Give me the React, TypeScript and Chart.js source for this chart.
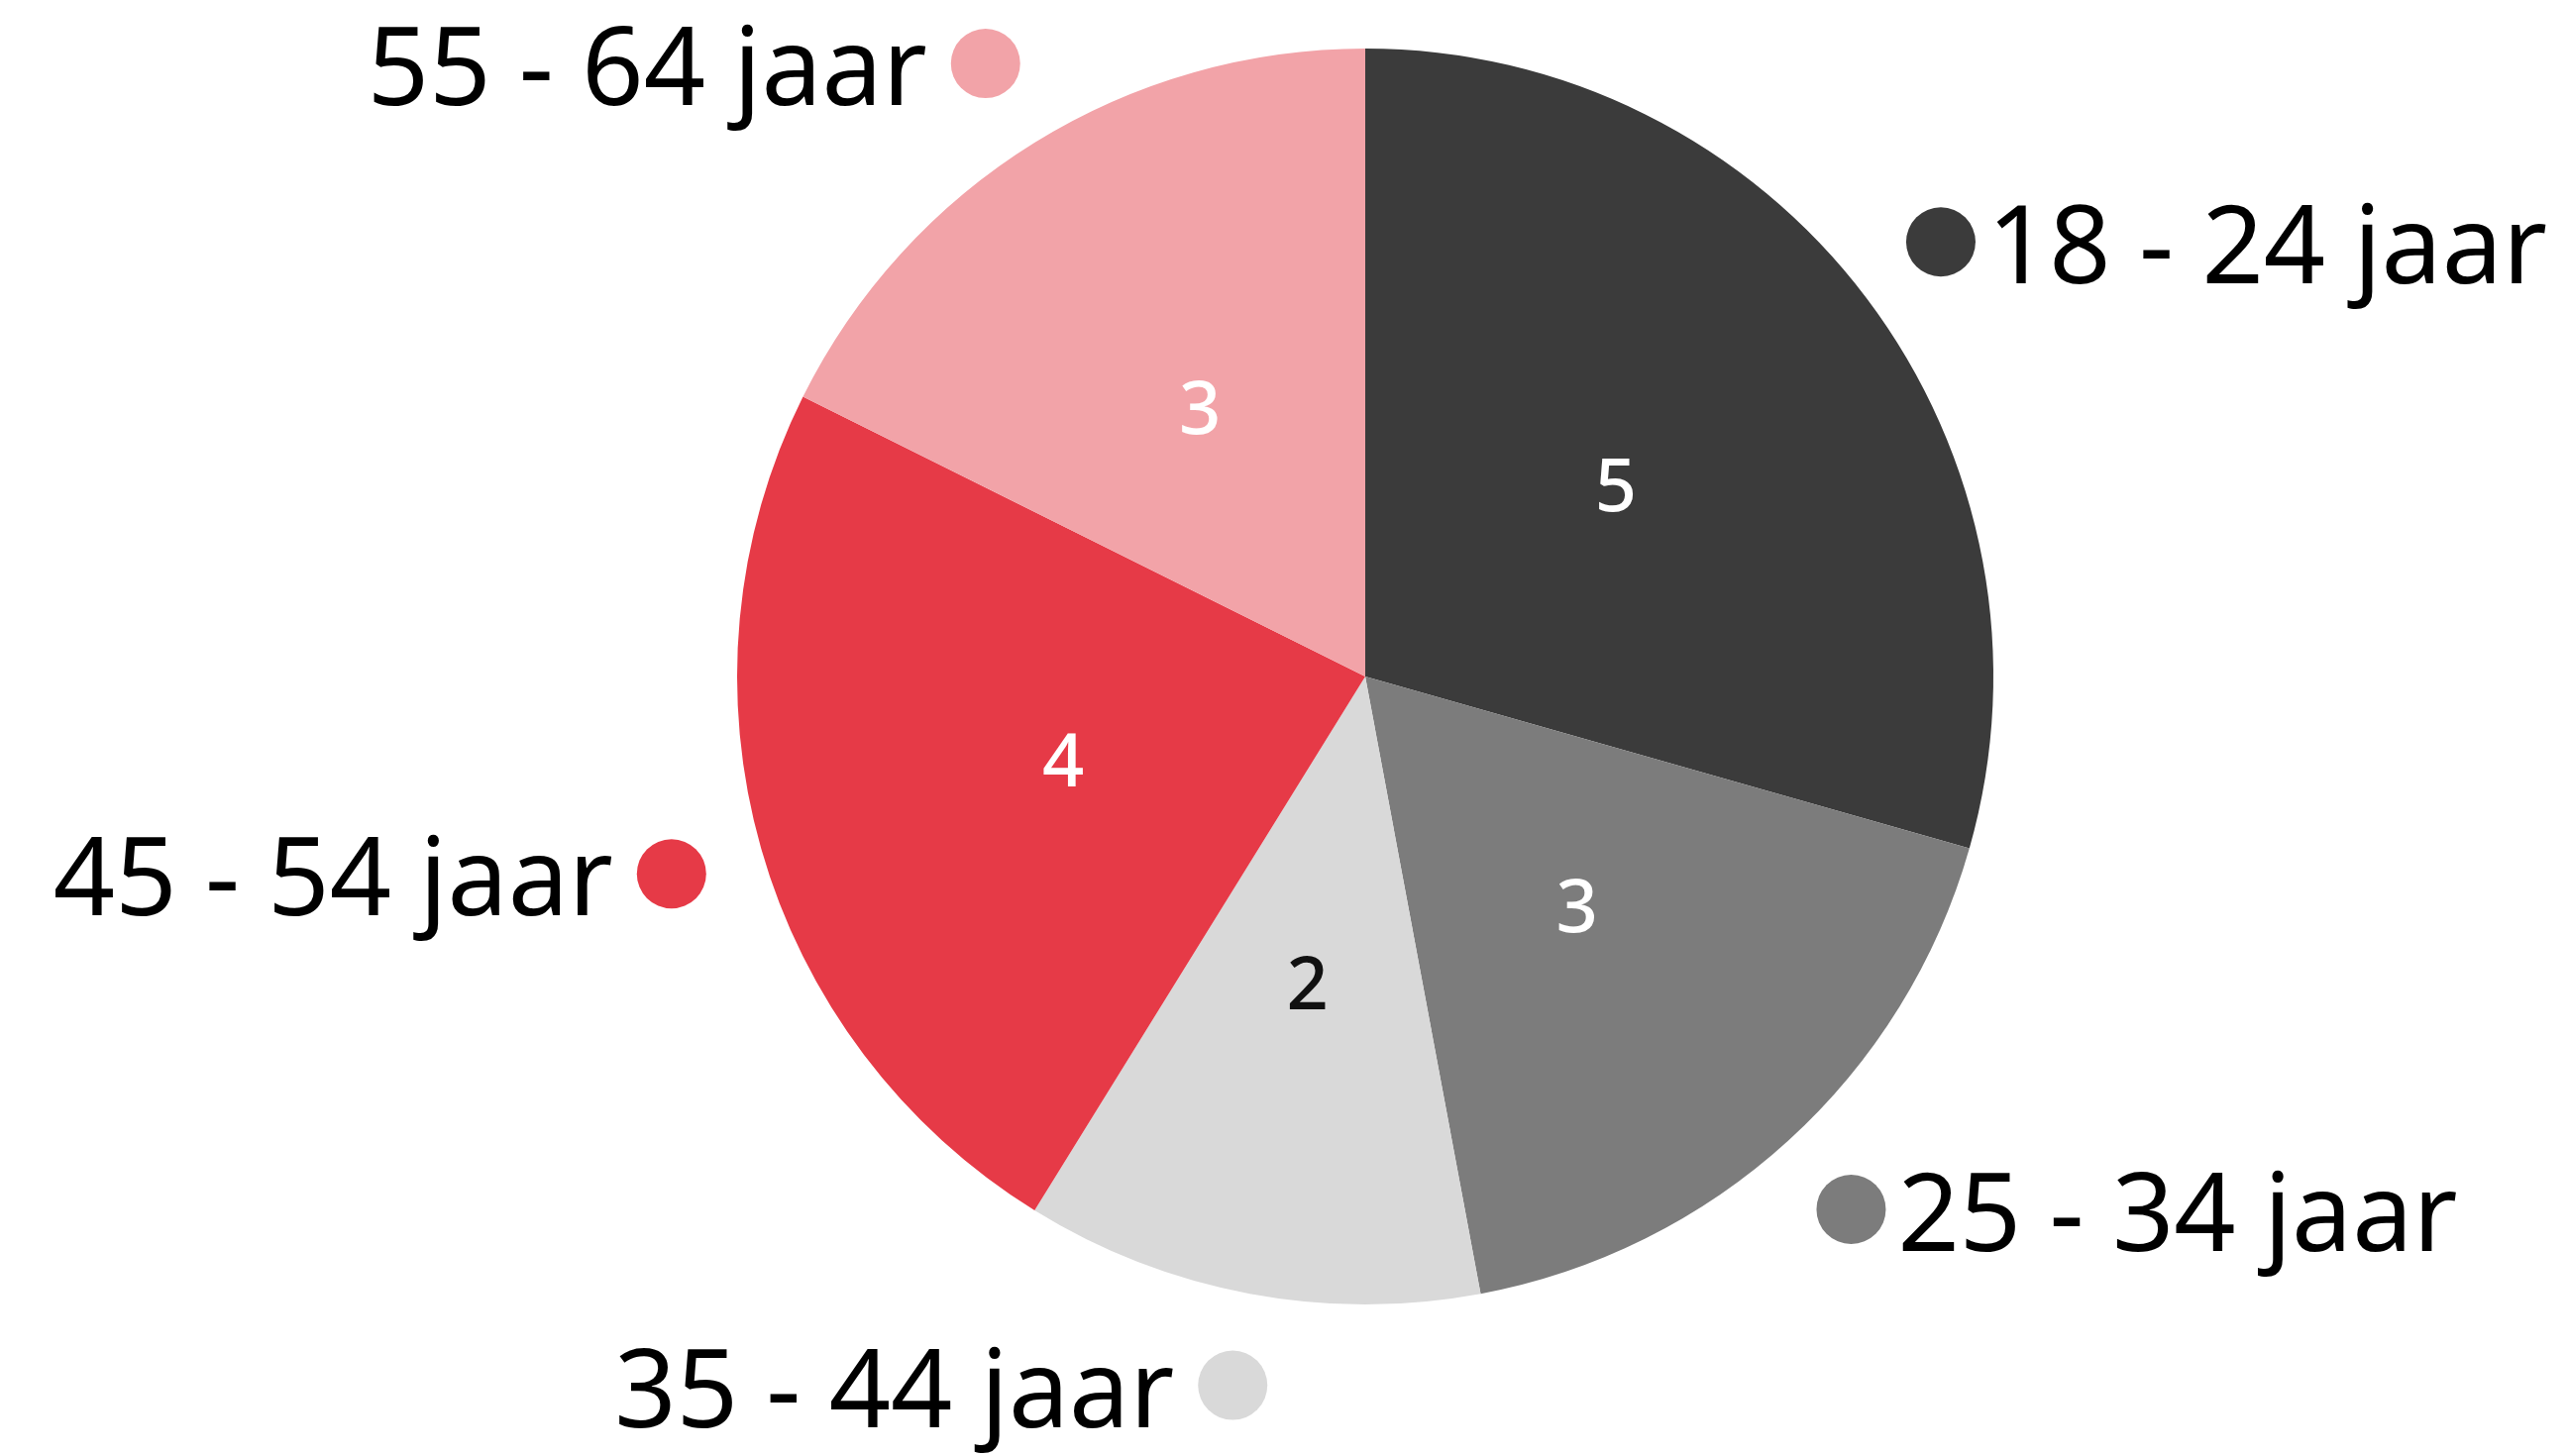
import React, { useEffect, useRef } from "react";
import { Chart, registerables } from "chart.js";

Chart.register(...registerables);

const categories = ["18 - 24 jaar", "25 - 34 jaar", "35 - 44 jaar", "45 - 54 jaar", "55 - 64 jaar"];
const values = [5, 3, 2, 4, 3];
const colors = ["#3b3b3b", "#7c7c7c", "#d9d9d9", "#e63a47", "#f2a3a8"];
const valueTextColors = ["#ffffff", "#ffffff", "#111111", "#ffffff", "#ffffff"];

const FONT = "'Noto Sans', 'DejaVu Sans', sans-serif";

const labelPlugin = {
  id: "outerLabels",
  afterDatasetsDraw(chart: any) {
    const ctx = chart.ctx as CanvasRenderingContext2D;
    const meta = chart.getDatasetMeta(0);
    meta.data.forEach((arc: any, i: number) => {
      const p = arc.getProps(["x", "y", "startAngle", "endAngle", "outerRadius"], true);
      const mid = (p.startAngle + p.endAngle) / 2;
      const cos = Math.cos(mid);
      const sin = Math.sin(mid);
      // value inside
      ctx.save();
      ctx.font = `500 74px ${FONT}`;
      ctx.fillStyle = valueTextColors[i];
      ctx.textAlign = "center";
      ctx.textBaseline = "middle";
      ctx.fillText(String(values[i]), p.x + cos * p.outerRadius * 0.5, p.y + sin * p.outerRadius * 0.5 + 3);
      ctx.restore();
      // dot
      const dr = p.outerRadius + 94;
      const dx = p.x + cos * dr;
      const dy = p.y + sin * dr;
      ctx.save();
      ctx.beginPath();
      ctx.arc(dx, dy, 35, 0, Math.PI * 2);
      ctx.fillStyle = colors[i];
      ctx.fill();
      ctx.font = `400 109px ${FONT}`;
      ctx.fillStyle = "#000000";
      ctx.textBaseline = "alphabetic";
      const right = cos >= 0;
      ctx.textAlign = right ? "left" : "right";
      const tx = right ? dx + 35 + 12 : dx - 35 - 24;
      ctx.fillText(categories[i], tx, dy + 42);
      ctx.restore();
    });
  },
};

export default function App() {
  const ref = useRef<HTMLCanvasElement | null>(null);
  useEffect(() => {
    document.body.style.margin = "0";
    const chart = new Chart(ref.current as HTMLCanvasElement, {
      type: "pie",
      data: {
        labels: categories,
        datasets: [
          {
            data: values,
            backgroundColor: colors,
            borderWidth: 0,
          },
        ],
      },
      options: {
        animation: false,
        responsive: false,
        maintainAspectRatio: false,
        layout: { padding: { left: 744, right: 580, top: 49, bottom: 153 } },
        plugins: {
          legend: { display: false },
          tooltip: { enabled: false },
        },
      },
      plugins: [labelPlugin],
    });
    return () => chart.destroy();
  }, []);
  return (
    <div style={{ position: "fixed", left: 0, top: 0, width: 2592, height: 1470, background: "#ffffff" }}>
      <canvas ref={ref} width={2592} height={1470} style={{ width: 2592, height: 1470 }} />
    </div>
  );
}
